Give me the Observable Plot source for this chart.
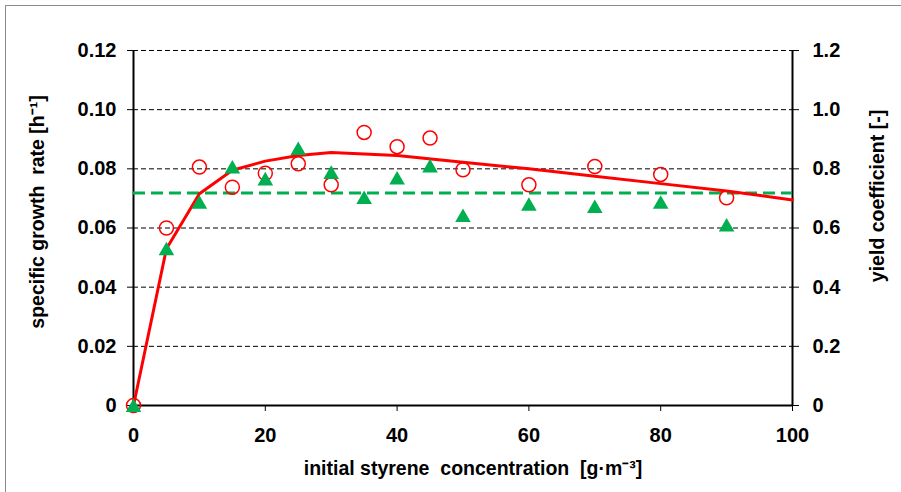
<!DOCTYPE html>
<html><head><meta charset="utf-8">
<script src="https://cdn.jsdelivr.net/npm/d3@7"></script>
<script src="https://cdn.jsdelivr.net/npm/@observablehq/plot@0.6"></script>
<style>
html,body{margin:0;padding:0;background:#fff;overflow:hidden;}
#chart{position:absolute;left:0;top:0;}
#border{position:absolute;left:5px;top:5px;width:896px;height:487px;border-left:1.5px solid #8c8c8c;border-top:1.5px solid #8c8c8c;pointer-events:none;}
</style></head><body><div id="chart"></div><div id="border"></div>
<script>
const concentrations = [0, 5, 10, 15, 20, 25, 30, 35, 40, 45, 50, 60, 70, 80, 90];
const growthRates = [0, 0.0600, 0.0806, 0.0738, 0.0785, 0.0817, 0.0746, 0.0923, 0.0875, 0.0904, 0.0797, 0.0746, 0.0808, 0.0781, 0.0702];
const yieldCoefficients = [0, 0.530, 0.687, 0.806, 0.766, 0.869, 0.788, 0.703, 0.769, 0.810, 0.642, 0.680, 0.673, 0.687, 0.610];
const modelX = [0, 5, 10, 15, 20, 25, 30, 40, 50, 60, 70, 80, 90, 100];
const modelRate = [0, 0.053, 0.0716, 0.0795, 0.0826, 0.0845, 0.0855, 0.0845, 0.0822, 0.0800, 0.0775, 0.0750, 0.0725, 0.0695];
const meanYield = 0.718;
const xTicks = [0, 20, 40, 60, 80, 100];
const leftTicks = [0, 0.02, 0.04, 0.06, 0.08, 0.10, 0.12];
const leftTickLabels = ["0", "0.02", "0.04", "0.06", "0.08", "0.10", "0.12"];
const rightTicks = [0, 0.2, 0.4, 0.6, 0.8, 1.0, 1.2];
const rightTickLabels = ["0", "0.2", "0.4", "0.6", "0.8", "1.0", "1.2"];
const xTitle = "initial styrene  concentration  [g\u00b7m\u207b\u00b3]";
const leftTitle = "specific growth  rate [h\u207b\u00b9]";
const rightTitle = "yield coefficient [-]";

const measured = concentrations.map((c, i) => ({c, mu: growthRates[i], Y: yieldCoefficients[i]}));
const model = modelX.map((c, i) => ({c, mu: modelRate[i]}));
const ratio = 10; // right axis = left axis * 10

const font = "'Liberation Sans', Arial, sans-serif";
const RED = "#ff0000", GREEN = "#00b050";
const TICK_FS = 20, TITLE_FS = 19.5;

const plot = Plot.plot({
  width: 901, height: 492,
  marginLeft: 133, marginRight: 109, marginTop: 50, marginBottom: 87,
  style: {fontFamily: font, fontWeight: "bold", fontSize: TICK_FS + "px", color: "#000", background: "transparent"},
  x: {domain: [0, 100]},
  y: {domain: [0, 0.12]},
  marks: [
    Plot.gridY(leftTicks.slice(1), {stroke: "#000", strokeOpacity: 1, strokeWidth: 1, strokeDasharray: "5,3"}),
    Plot.ruleY([0], {stroke: "#000", strokeWidth: 2}),
    Plot.ruleX([0, 100], {stroke: "#000", strokeWidth: 2}),
    Plot.axisX(xTicks, {anchor: "bottom", tickSize: 6, tickPadding: 16, tickFormat: d => String(d), label: null, fontSize: TICK_FS}),
    Plot.axisY(leftTicks, {anchor: "left", tickSize: 6, tickPadding: 11, tickFormat: (d, i) => leftTickLabels[i], label: null, fontSize: TICK_FS}),
    Plot.axisY(rightTicks.map(t => t / ratio), {anchor: "right", tickSize: 6, tickPadding: 14, tickFormat: (d, i) => rightTickLabels[i], label: null, fontSize: TICK_FS}),
    Plot.ruleY([meanYield / ratio], {stroke: GREEN, strokeWidth: 3, strokeDasharray: "12,6"}),
    Plot.line(model, {x: "c", y: "mu", stroke: RED, strokeWidth: 3, curve: "linear", strokeLinejoin: "round"}),
    Plot.dot(measured, {x: "c", y: "mu", r: 7, stroke: RED, strokeWidth: 1.5, fill: "none"}),
    Plot.dot(measured, {x: "c", y: d => d.Y / ratio, symbol: "triangle", r: 5.8, fill: GREEN, stroke: "none", dy: 2}),
    Plot.text([xTitle], {frameAnchor: "bottom", dy: 63, dx: 10, text: d => d, fontSize: TITLE_FS, fontWeight: "bold", textAnchor: "middle", lineAnchor: "middle"}),
    Plot.text([leftTitle], {frameAnchor: "left", dx: -96, dy: -16, rotate: -90, text: d => d, fontSize: TITLE_FS, fontWeight: "bold", textAnchor: "middle", lineAnchor: "middle"}),
    Plot.text([rightTitle], {frameAnchor: "right", dx: 85, dy: -32, rotate: -90, text: d => d, fontSize: TITLE_FS, fontWeight: "bold", textAnchor: "middle", lineAnchor: "middle"})
  ]
});
plot.querySelectorAll("text").forEach(t => t.style.whiteSpace = "pre");
document.getElementById("chart").appendChild(plot);
</script></body></html>
